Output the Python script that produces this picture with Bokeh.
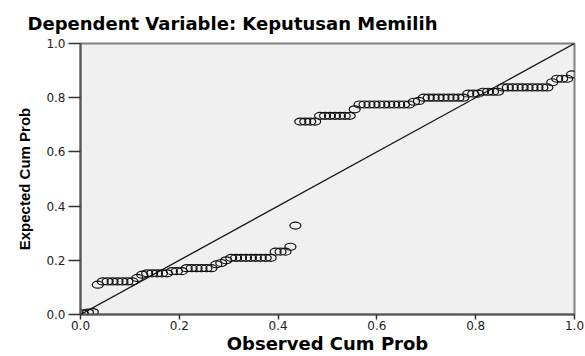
from bokeh.plotting import figure
from bokeh.models import Range1d, FixedTicker, NumeralTickFormatter, Slope
from bokeh.embed import file_html
from bokeh.resources import INLINE

# Observed cumulative probability (x) and expected cumulative probability (y)
obs_prob = [0.005, 0.015, 0.025, 0.035,
            0.045, 0.055, 0.065, 0.075, 0.085, 0.095, 0.105,
            0.115, 0.125,
            0.135, 0.145, 0.155, 0.165, 0.175,
            0.185, 0.195, 0.205,
            0.215, 0.225, 0.235, 0.245, 0.255, 0.265,
            0.275, 0.285, 0.295,
            0.305, 0.315, 0.325, 0.335, 0.345, 0.355, 0.365, 0.375, 0.385,
            0.395, 0.405, 0.415, 0.425, 0.435,
            0.445, 0.455, 0.465, 0.475,
            0.485, 0.495, 0.505, 0.515, 0.525, 0.535, 0.545,
            0.555,
            0.565, 0.575, 0.585, 0.595, 0.605, 0.615, 0.625, 0.635, 0.645, 0.655, 0.665,
            0.675, 0.685,
            0.695, 0.705, 0.715, 0.725, 0.735, 0.745, 0.755, 0.765, 0.775,
            0.785, 0.795, 0.805,
            0.815, 0.825, 0.835, 0.845,
            0.855, 0.865, 0.875, 0.885, 0.895, 0.905, 0.915, 0.925, 0.935, 0.945,
            0.955, 0.965, 0.975, 0.985, 0.995]
exp_prob = [0.004, 0.007, 0.009, 0.110,
            0.122, 0.122, 0.122, 0.122, 0.122, 0.122, 0.122,
            0.135, 0.147,
            0.152, 0.152, 0.152, 0.152, 0.152,
            0.160, 0.160, 0.160,
            0.171, 0.171, 0.171, 0.171, 0.171, 0.171,
            0.185, 0.190, 0.200,
            0.209, 0.209, 0.209, 0.209, 0.209, 0.209, 0.209, 0.209, 0.209,
            0.232, 0.232, 0.232, 0.250, 0.328,
            0.712, 0.712, 0.712, 0.712,
            0.733, 0.733, 0.733, 0.733, 0.733, 0.733, 0.733,
            0.757,
            0.775, 0.775, 0.775, 0.775, 0.775, 0.775, 0.775, 0.775, 0.775, 0.775, 0.775,
            0.785, 0.788,
            0.800, 0.800, 0.800, 0.800, 0.800, 0.800, 0.800, 0.800, 0.800,
            0.815, 0.815, 0.815,
            0.822, 0.822, 0.822, 0.822,
            0.838, 0.838, 0.838, 0.838, 0.838, 0.838, 0.838, 0.838, 0.838, 0.838,
            0.857, 0.870, 0.870, 0.870, 0.886]
tick_values = [0.0, 0.2, 0.4, 0.6, 0.8, 1.0]

p = figure(width=585, height=356, output_backend="svg", toolbar_location=None,
           x_range=Range1d(0, 1), y_range=Range1d(0, 1),
           min_border_left=80, min_border_right=11, min_border_top=0, min_border_bottom=0)

p.title.text = "Dependent Variable: Keputusan Memilih"
p.title.text_font = "DejaVu Sans"
p.title.text_font_size = "18px"
p.title.text_font_style = "bold"
p.title.text_color = "#000000"
p.title.align = "left"
p.title.offset = -53
p.title.standoff = 20

p.background_fill_color = "#f0f0f0"
p.border_fill_color = "#ffffff"
p.outline_line_color = "#808080"
p.outline_line_width = 2
p.xgrid.visible = False
p.ygrid.visible = False

for ax in (p.xaxis[0], p.yaxis[0]):
    ax.ticker = FixedTicker(ticks=tick_values)
    ax.formatter = NumeralTickFormatter(format="0.0")
    ax.minor_tick_line_color = None
    ax.major_tick_in = 0
    ax.axis_line_color = "#555555"
    ax.axis_line_width = 2
    ax.major_tick_line_color = "#333333"
    ax.major_tick_line_width = 1.5
    ax.major_label_text_font = "DejaVu Sans"
    ax.major_label_text_font_size = "12px"
    ax.major_label_text_color = "#222222"
    ax.axis_label_text_font_style = "bold"
    ax.axis_label_text_color = "#000000"

p.xaxis.axis_label = "Observed Cum Prob"
p.xaxis.axis_label_text_font = "DejaVu Sans"
p.xaxis.axis_label_text_font_size = "18px"
p.xaxis.major_tick_out = 5
p.xaxis.major_label_standoff = 1
p.xaxis.axis_label_standoff = 0

p.yaxis.axis_label = "Expected Cum Prob"
p.yaxis.axis_label_text_font = "Liberation Sans"
p.yaxis.axis_label_text_font_size = "15px"
p.yaxis.major_tick_out = 12
p.yaxis.major_label_standoff = 3
p.yaxis.axis_label_standoff = 10

p.add_layout(Slope(gradient=1, y_intercept=0, line_color="#111111", line_width=1.3))

p.ellipse(x=obs_prob, y=exp_prob, width=11, height=7,
          width_units="screen", height_units="screen",
          fill_color=None, line_color="#111111", line_width=1.2)

open("out.html", "w").write(file_html(p, INLINE))
